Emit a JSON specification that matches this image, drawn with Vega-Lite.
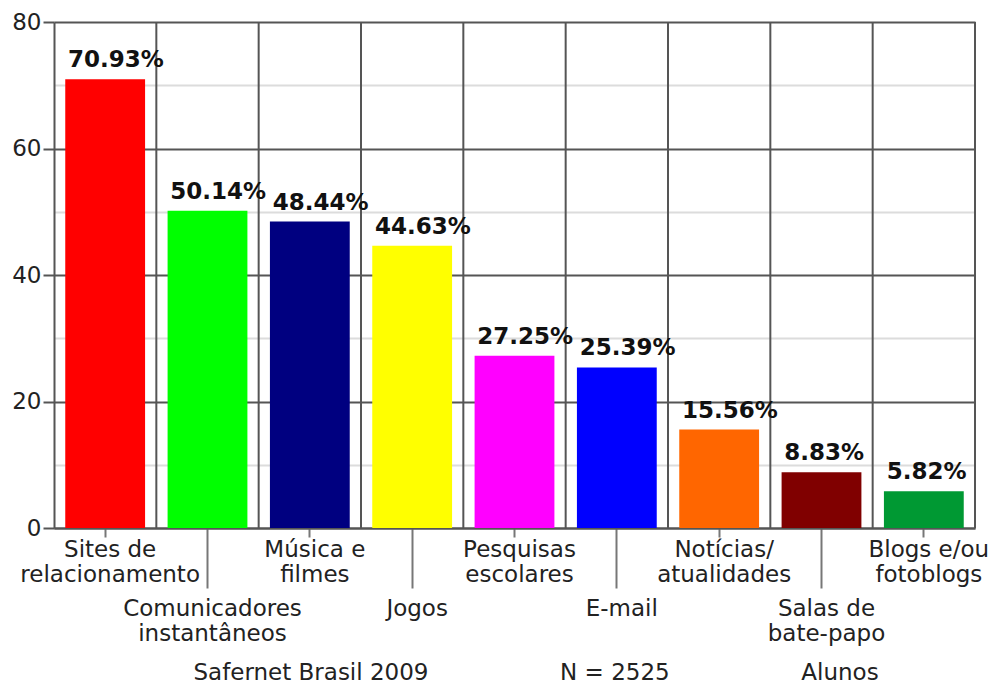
{
  "$schema": "https://vega.github.io/schema/vega-lite/v6.json",
  "width": 921,
  "height": 506,
  "autosize": {"type": "none"},
  "padding": {"left": 54, "top": 22, "right": 18, "bottom": 153},
  "background": "white",
  "config": {"view": {"stroke": null}, "font": "DejaVu Sans"},
  "data": {
    "values": [
      {"cat": "Sites de relacionamento", "value": 70.93},
      {"cat": "Comunicadores instantâneos", "value": 50.14},
      {"cat": "Música e filmes", "value": 48.44},
      {"cat": "Jogos", "value": 44.63},
      {"cat": "Pesquisas escolares", "value": 27.25},
      {"cat": "E-mail", "value": 25.39},
      {"cat": "Notícias/ atualidades", "value": 15.56},
      {"cat": "Salas de bate-papo", "value": 8.83},
      {"cat": "Blogs e/ou fotoblogs", "value": 5.82}
    ]
  },
  "layer": [
    {
      "mark": {"type": "rule", "color": "#555", "strokeWidth": 2},
      "encoding": {
        "x": {"field": "cat", "type": "nominal", "sort": null, "bandPosition": 1, "scale": {"paddingInner": 0, "paddingOuter": 0}}
      }
    },
    {
      "mark": {"type": "bar", "width": {"band": 0.78}},
      "encoding": {
        "x": {
          "field": "cat", "type": "nominal", "sort": null,
          "scale": {"paddingInner": 0, "paddingOuter": 0},
          "axis": {
            "title": "Safernet Brasil 2009\u00a0\u00a0\u00a0\u00a0\u00a0\u00a0\u00a0\u00a0\u00a0\u00a0\u00a0\u00a0\u00a0\u00a0\u00a0\u00a0\u00a0\u00a0N = 2525\u00a0\u00a0\u00a0\u00a0\u00a0\u00a0\u00a0\u00a0\u00a0\u00a0\u00a0\u00a0\u00a0\u00a0\u00a0\u00a0\u00a0\u00a0Alunos",
            "titleFontSize": 23,
            "titleFontWeight": "normal",
            "titleColor": "#222",
            "titleAnchor": "start",
            "titleAlign": "left",
            "titleX": 139,
            "titleY": 151,
            "titleBaseline": "alphabetic",
            "labelAngle": 0,
            "labelAlign": "center",
            "labelFontSize": 23,
            "labelColor": "#222",
            "labelLineHeight": 25,
            "labelBaseline": "top",
            "labelOffset": 5,
            "labelLimit": 400,
            "labelOverlap": false,
            "labelBound": false,
            "labelFlush": false,
            "labelExpr": "lastindexof(datum.value, ' ') > 0 ? [substring(datum.value, 0, lastindexof(datum.value, ' ')), substring(datum.value, lastindexof(datum.value, ' ') + 1)] : datum.value",
            "labelPadding": {"condition": {"test": "indexof(['Comunicadores instantâneos','Jogos','E-mail','Salas de bate-papo'], datum.value) >= 0", "value": 9}, "value": 1},
            "tickSize": {"condition": {"test": "indexof(['Comunicadores instantâneos','Jogos','E-mail','Salas de bate-papo'], datum.value) >= 0", "value": 60}, "value": 9},
            "tickColor": "#777",
            "tickWidth": 2,
            "domainColor": "#555",
            "domainWidth": 2,
            "grid": false
          }
        },
        "y": {
          "field": "value", "type": "quantitative",
          "scale": {"domain": [0, 80], "nice": false},
          "axis": {
            "title": null,
            "values": [0, 10, 20, 30, 40, 50, 60, 70, 80],
            "labelExpr": "datum.value % 20 === 0 ? datum.label : ''",
            "labelFontSize": 23,
            "labelColor": "#222",
            "labelPadding": 2,
            "tickSize": 11,
            "tickWidth": 2,
            "tickColor": "#555",
            "tickOpacity": {"condition": {"test": "datum.value % 20 === 0", "value": 1}, "value": 0},
            "domainColor": "#555",
            "domainWidth": 2,
            "grid": true,
            "gridColor": {"condition": {"test": "datum.value % 20 === 0", "value": "#555"}, "value": "#dcdcdc"},
            "gridWidth": 2
          }
        },
        "color": {
          "field": "cat", "type": "nominal", "legend": null,
          "scale": {
            "domain": ["Sites de relacionamento", "Comunicadores instantâneos", "Música e filmes", "Jogos", "Pesquisas escolares", "E-mail", "Notícias/ atualidades", "Salas de bate-papo", "Blogs e/ou fotoblogs"],
            "range": ["#ff0000", "#00ff00", "#000080", "#ffff00", "#ff00ff", "#0000ff", "#ff6600", "#800000", "#009933"]
          }
        }
      }
    },
    {
      "mark": {"type": "text", "align": "left", "baseline": "alphabetic", "dx": 14, "dy": -12, "fontSize": 23, "fontWeight": "bold", "color": "#111", "text": {"expr": "format(datum.value, '.2f') + '%'"}},
      "encoding": {
        "x": {"field": "cat", "type": "nominal", "sort": null, "bandPosition": 0, "scale": {"paddingInner": 0, "paddingOuter": 0}},
        "y": {"field": "value", "type": "quantitative", "scale": {"domain": [0, 80], "nice": false}}
      }
    }
  ]
}
